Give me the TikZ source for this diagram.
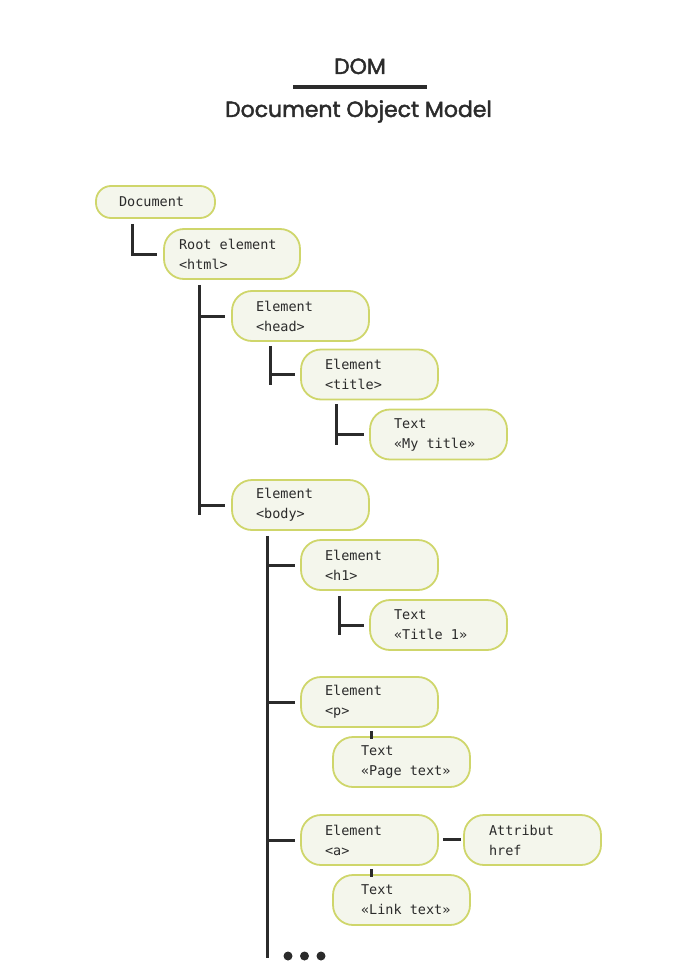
\documentclass[tikz,border=0pt]{standalone}
\usepackage{fontspec}
\newfontfamily\titlef{Poppins}[FakeBold=2]
\newfontfamily\monof{DejaVu Sans Mono}
\definecolor{boxfill}{HTML}{F4F6EC}
\definecolor{boxline}{HTML}{CFD66B}
\definecolor{ink}{HTML}{2B2B2B}
% indented lines inside a box, with full-width monospaced spaces
\newcommand\onel[2]{\spaceskip=0.602em\relax\hspace*{#1}#2}
\newcommand\twol[3]{\spaceskip=0.602em\relax\hspace*{#1}#2\\\hspace*{#1}#3}
\begin{document}
\begin{tikzpicture}[x=1pt,y=-1pt,
  box/.style={draw=boxline, fill=boxfill, line width=1.8pt, rounded corners=20pt,
    minimum height=50pt, inner xsep=0pt, inner ysep=0pt, text width=137pt,
    align=left, font=\monof\fontsize{13.5}{20}\selectfont, text=ink},
  conn/.style={draw=ink, line width=3pt},
  dot/.style={circle, fill=ink, minimum size=9pt, inner sep=0pt},
  ttl/.style={font=\titlef\fontsize{22}{28}\selectfont, text=ink, anchor=base}]
\useasboundingbox (0,0) rectangle (672,971);

% title
\node[ttl] (dom) at (360,74) {DOM};
\node[ttl] (dommodel) at (358.5,117) {Document Object Model};
\coordinate (ruleL) at (293,87);
\coordinate (ruleR) at (427,87);
\draw[ink, line width=4pt] (ruleL) -- (ruleR);

% nodes
\node[box, text width=119pt, minimum height=32pt, rounded corners=15pt] (doc) at (155.5,202) {\onel{23pt}{Document}};
\node[box, text width=136pt] (root) at (232,254) {\twol{15pt}{Root element}{<html>}};
\node[box] (head) at (300.5,316) {\twol{24pt}{Element}{<head>}};
\node[box] (title) at (369.5,374.5) {\twol{24pt}{Element}{<title>}};
\node[box] (mytitle) at (438.5,434.5) {\twol{24pt}{Text}{«My title»}};
\node[box] (body) at (300.5,505) {\twol{24pt}{Element}{<body>}};
\node[box] (h1) at (369.5,565) {\twol{24pt}{Element}{<h1>}};
\node[box] (t1) at (438.5,625) {\twol{24pt}{Text}{«Title 1»}};
\node[box] (p) at (369.5,702) {\twol{24pt}{Element}{<p>}};
\node[box] (ptext) at (401.5,762) {\twol{28pt}{Text}{«Page text»}};
\node[box] (a) at (369.5,840) {\twol{24pt}{Element}{<a>}};
\node[box] (attr) at (532.5,840) {\twol{25pt}{Attribut}{href}};
\node[box] (ltext) at (401.5,900) {\twol{28pt}{Text}{«Link text»}};

% Document -> root
\draw[conn] ([xshift=-23.5pt,yshift=-5pt]doc.south) |- ([xshift=-6pt]root.west);

% root -> head, body
\coordinate (rv) at ([xshift=-33pt,yshift=-5pt]root.south);
\coordinate (rvend) at ([yshift=-10pt]body.west);
\draw[conn] (rv) -- (rv |- rvend);
\draw[conn] (rv |- head.west) -- ([xshift=-6pt]head.west);
\draw[conn] (rv |- body.west) -- ([xshift=-6pt]body.west);

% head -> title
\coordinate (hv) at ([xshift=-30.5pt,yshift=-4pt]head.south);
\coordinate (hvend) at ([yshift=-10pt]title.west);
\draw[conn] (hv) -- (hv |- hvend);
\draw[conn] (hv |- title.west) -- ([xshift=-5pt]title.west);

% title -> my title
\coordinate (tv) at ([xshift=-33.5pt,yshift=-4pt]title.south);
\coordinate (tvend) at ([yshift=-10pt]mytitle.west);
\draw[conn] (tv) -- (tv |- tvend);
\draw[conn] (tv |- mytitle.west) -- ([xshift=-5pt]mytitle.west);

% body -> h1, p, a
\coordinate (bv) at ([xshift=-33.5pt,yshift=-5pt]body.south);
\coordinate (bvend) at (288,958);
\draw[conn] (bv) -- (bv |- bvend);
\draw[conn] (bv |- h1.west) -- ([xshift=-5pt]h1.west);
\draw[conn] (bv |- p.west) -- ([xshift=-5pt]p.west);
\draw[conn] (bv |- a.west) -- ([xshift=-5pt]a.west);

% h1 -> text
\coordinate (h1v) at ([xshift=-30.5pt,yshift=-5pt]h1.south);
\coordinate (h1vend) at ([yshift=-10pt]t1.west);
\draw[conn] (h1v) -- (h1v |- h1vend);
\draw[conn] (h1v |- t1.west) -- ([xshift=-5pt]t1.west);

% p -> text, a -> text
\draw[conn] ([xshift=1.5pt,yshift=-3pt]p.south) -- ([xshift=1.5pt,yshift=-3pt]p.south |- ptext.north);
\draw[conn] ([xshift=1.5pt,yshift=-3pt]a.south) -- ([xshift=1.5pt,yshift=-3pt]a.south |- ltext.north);

% a -> attribute
\draw[conn] ([xshift=4pt,yshift=1pt]a.east) -- ([xshift=-2pt,yshift=1pt]attr.west);

% continuation dots
\node[dot] (d1) at (288,956) {};
\node[dot] (d2) at (304.5,956) {};
\node[dot] (d3) at (321,956) {};
\end{tikzpicture}
\end{document}
